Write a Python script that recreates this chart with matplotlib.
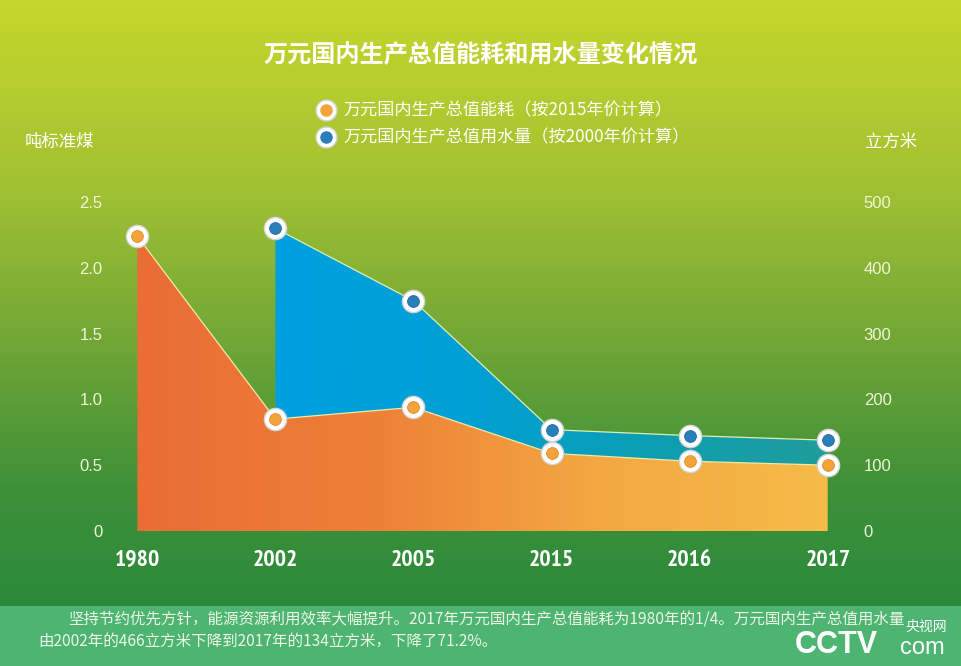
import numpy as np
import matplotlib
matplotlib.use("Agg")
import matplotlib.pyplot as plt
from matplotlib import font_manager
from matplotlib.colors import LinearSegmentedColormap
from matplotlib.patches import Rectangle

plt.rcParams['font.family'] = ['Noto Sans CJK SC', 'DejaVu Sans']

# data
years = ['1980', '2002', '2005', '2015', '2016', '2017']
energy = [2.24, 0.85, 0.94, 0.59, 0.53, 0.50]        # 吨标准煤
water_years = ['2002', '2005', '2015', '2016', '2017']
water = [460, 350, 154, 145, 138]                    # 立方米
left_ticks = [0, 0.5, 1.0, 1.5, 2.0, 2.5]
left_labels = ['0', '0.5', '1.0', '1.5', '2.0', '2.5']
right_ticks = [0, 100, 200, 300, 400, 500]

# look for a narrow bold face for the year labels
narrow = None
for f in font_manager.fontManager.ttflist:
    if 'Narrow' in f.name and f.weight in ('bold', 700):
        narrow = f.fname
        break
if narrow is None:
    for f in font_manager.fontManager.ttflist:
        if ('Condensed' in f.name or f.stretch in ('condensed', 'semi-condensed')) \
                and f.weight in ('bold', 700):
            narrow = f.fname
            break
if narrow:
    year_font = dict(fontproperties=font_manager.FontProperties(fname=narrow, size=17))
else:
    year_font = dict(family=['Liberation Sans', 'DejaVu Sans'], fontweight='bold', fontsize=14)

W, H = 962, 666
fig = plt.figure(figsize=(W / 100, H / 100), dpi=100)

# background gradient
bg = fig.add_axes([0, 0, 1, 1], zorder=-10)
bg_cmap = LinearSegmentedColormap.from_list('bg', [
    (0.0, '#c6d72c'), (0.30, '#a2c232'), (0.55, '#74a836'),
    (0.80, '#3f9138'), (1.0, '#2a8a3a')])
grad = np.linspace(0, 1, 256).reshape(-1, 1)
bg.imshow(grad, aspect='auto', extent=[0, 1, 60 / H, 1], cmap=bg_cmap)
bg.add_patch(Rectangle((0, 0), 1, 60 / H, color='#4db471', lw=0))
bg.set_xlim(0, 1)
bg.set_ylim(0, 1)
bg.axis('off')

# main axes
x0, x1 = 137.3, 827.7
y0, y1 = 531, 202
ax = fig.add_axes([x0 / W, (H - y0) / H, (x1 - x0) / W, (y0 - y1) / H])
ax.patch.set_visible(False)
ax2 = ax.twinx()
ax2.patch.set_visible(False)

idx = np.arange(len(years))
widx = np.array([years.index(y) for y in water_years])

ax.set_xlim(0, len(years) - 1)
ax.set_ylim(0, 2.5)
ax2.set_ylim(0, 500)
scale = ax.get_ylim()[1] / ax2.get_ylim()[1]
water_left = np.array(water) * scale
energy_at_w = np.array(energy)[widx]

# orange gradient area
orange_cmap = LinearSegmentedColormap.from_list('or', ['#e96d35', '#ed7f37', '#f3a842', '#f6bb48'])
poly = ax.fill_between(idx, energy, 0, color='none', lw=0)
img = ax.imshow(np.linspace(0, 1, 256).reshape(1, -1), extent=[0, 5, 0, 2.5],
                aspect='auto', cmap=orange_cmap, zorder=1)
img.set_clip_path(poly.get_paths()[0], transform=ax.transData)

# blue gradient area
blue_cmap = LinearSegmentedColormap.from_list('bl', ['#00a0e0', '#00a0d6', '#0c9fb4', '#1f9d9b'])
poly2 = ax.fill_between(widx, energy_at_w, water_left, color='none', lw=0)
img2 = ax.imshow(np.linspace(0, 1, 256).reshape(1, -1), extent=[1, 5, 0, 2.5],
                 aspect='auto', cmap=blue_cmap, zorder=1)
img2.set_clip_path(poly2.get_paths()[0], transform=ax.transData)
ax.set_xlim(0, len(years) - 1)
ax.set_ylim(0, 2.5)

# edge lines
ax.plot(idx, energy, color='#f4eaa6', lw=0.9, zorder=2)
ax2.plot(widx, water, color='#dfeeb0', lw=0.9, zorder=2)

# markers
ax.plot(idx, energy, 'o', ms=16, mfc='white', mec='#d4d4d4', mew=1, clip_on=False, zorder=5)
ax.plot(idx, energy, 'o', ms=8.5, mfc='#f3a33a', mec='#e98a2c', mew=0.6, clip_on=False, zorder=6)
ax2.plot(widx, water, 'o', ms=16, mfc='white', mec='#d4d4d4', mew=1, clip_on=False, zorder=5)
ax2.plot(widx, water, 'o', ms=8.5, mfc='#2a7fba', mec='#23679a', mew=0.6, clip_on=False, zorder=6)

# axes styling
for a in (ax, ax2):
    for s in a.spines.values():
        s.set_visible(False)
ax.set_xticks(idx)
ax.set_xticklabels(years, color='white', **year_font)
ax.set_yticks(left_ticks)
ax.set_yticklabels(left_labels, family=['Liberation Sans', 'DejaVu Sans'],
                   fontsize=12, color='#f0f5d8')
ax2.set_yticks(right_ticks)
ax2.set_yticklabels([str(t) for t in right_ticks], family=['Liberation Sans', 'DejaVu Sans'],
                    fontsize=12, color='#f0f5d8')
ax.tick_params(axis='x', length=0, pad=14)
ax.tick_params(axis='y', length=0, pad=25)
ax2.tick_params(axis='y', length=0, pad=26)

# title
fig.text(481 / W, 1 - 55 / H, '万元国内生产总值能耗和用水量变化情况', ha='center', va='center',
         fontsize=17.4, fontweight='bold', color='white')

# legend
leg_items = [('万元国内生产总值能耗（按2015年价计算）', '#f3a33a', 110),
             ('万元国内生产总值用水量（按2000年价计算）', '#2a7fba', 137)]
for label, col, yy in leg_items:
    fig.lines.append(plt.Line2D([326 / W], [1 - yy / H], marker='o', ms=15, mfc='white',
                                mec='#d4d4d4', transform=fig.transFigure))
    fig.lines.append(plt.Line2D([326 / W], [1 - yy / H], marker='o', ms=8, mfc=col,
                                mec=col, transform=fig.transFigure))
    fig.text(343 / W, 1 - yy / H, label, ha='left', va='center', fontsize=12.3, color='white')

# axis units
fig.text(25 / W, 1 - 142 / H, '吨标准煤', ha='left', va='center', fontsize=12.5, color='white')
fig.text(865 / W, 1 - 142 / H, '立方米', ha='left', va='center', fontsize=12.5, color='white')

# footer text
fig.text(68 / W, 1 - 620 / H,
         '坚持节约优先方针，能源资源利用效率大幅提升。2017年万元国内生产总值能耗为1980年的1/4。万元国内生产总值用水量',
         ha='left', va='center', fontsize=11.2, color='#eef7e6')
fig.text(38 / W, 1 - 641 / H, '由2002年的466立方米下降到2017年的134立方米，下降了71.2%。',
         ha='left', va='center', fontsize=11.2, color='#eef7e6')

# watermark
fig.text(795 / W, 1 - 645 / H, 'CCTV', ha='left', va='center', fontsize=22, fontweight='bold',
         color='white', family=['Liberation Sans', 'DejaVu Sans'])
fig.text(900 / W, 1 - 648 / H, 'com', ha='left', va='center', fontsize=17,
         color='white', family=['Liberation Sans', 'DejaVu Sans'])
fig.text(905 / W, 1 - 627 / H, '央视网', ha='left', va='center', fontsize=10, color='white')

fig.savefig('out.png', dpi=100)
